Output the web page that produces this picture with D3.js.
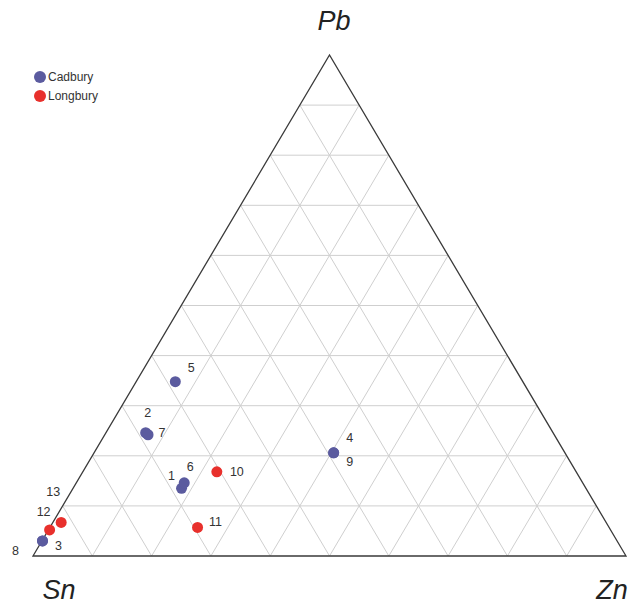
<!DOCTYPE html>
<html><head><meta charset="utf-8">
<script src="https://cdn.jsdelivr.net/npm/d3@7"></script>
<style>body{margin:0;background:#fff}svg{display:block}text{font-family:"Liberation Sans",Arial,sans-serif}</style>
</head><body><div id="chart"></div>
<script>
// Ternary data (fractions of Pb, Zn; Sn = remainder)
const sampleLabels = ["1","2","3","4","5","6","7","8","9","10","11","12","13"];
const sampleSite   = ["Cadbury","Cadbury","Cadbury","Cadbury","Cadbury","Cadbury","Cadbury","Cadbury","Cadbury","Longbury","Longbury","Longbury","Longbury"];
const pbFrac = [0.135,0.246,0.030,0.206,0.348,0.146,0.242,0.030,0.206,0.168,0.057,0.052,0.067];
const znFrac = [0.183,0.067,0.001,0.404,0.066,0.182,0.073,0.001,0.404,0.226,0.249,0.002,0.014];
const snFrac = pbFrac.map((p,i)=>+(1-p-znFrac[i]).toFixed(3));
const sites = ["Cadbury","Longbury"];
const vertexLabels = ["Sn","Zn","Pb"];
// label offsets (presentation only)
const labelOffset = {"1":[-10,-12],"2":[2,-20],"3":[16,5],"4":[16,-15],"5":[16,-14],"6":[6,-16],"7":[14,-2],"8":[-27,10],"9":[16,9],"10":[20,0],"11":[18,-5],"12":[-6,-18],"13":[-8,-30]};

const W=629,H=606;
const svg=d3.select("#chart").append("svg").attr("width",W).attr("height",H);
const color=d3.scaleOrdinal().domain(sites).range(["#5b5b9f","#e8302c"]);
// x uses Zn + Pb/2, y uses Pb
const xS=d3.scaleLinear().domain([0,1]).range([33,626]);
const yS=d3.scaleLinear().domain([0,1]).range([556,55]);
const pt=(p,z)=>[xS(z+p/2),yS(p)];

// grid
const grid=svg.append("g").attr("stroke","#cfcfcf").attr("stroke-width",1).attr("fill","none");
for(let k=1;k<10;k++){
  const t=k/10;
  let a=pt(t,0),b=pt(t,1-t);
  grid.append("line").attr("x1",a[0]).attr("y1",a[1]).attr("x2",b[0]).attr("y2",b[1]);
  a=pt(0,t);b=pt(1-t,t);
  grid.append("line").attr("x1",a[0]).attr("y1",a[1]).attr("x2",b[0]).attr("y2",b[1]);
  a=pt(0,1-t);b=pt(1-t,0);
  grid.append("line").attr("x1",a[0]).attr("y1",a[1]).attr("x2",b[0]).attr("y2",b[1]);
}
// outline
const V=[pt(0,0),pt(0,1),pt(1,0)];
svg.append("path").attr("d","M"+V.map(v=>v.join(",")).join("L")+"Z")
  .attr("fill","none").attr("stroke","#3a3a3a").attr("stroke-width",1.3);

// vertex labels
svg.append("text").text(vertexLabels[2]).attr("x",334).attr("y",30).attr("text-anchor","middle")
  .attr("font-size",27).attr("font-style","italic").attr("fill","#222");
svg.append("text").text(vertexLabels[0]).attr("x",59).attr("y",599).attr("text-anchor","middle")
  .attr("font-size",27).attr("font-style","italic").attr("fill","#222");
svg.append("text").text(vertexLabels[1]).attr("x",612).attr("y",599).attr("text-anchor","middle")
  .attr("font-size",27).attr("font-style","italic").attr("fill","#222");

// points
const data=sampleLabels.map((l,i)=>({l,site:sampleSite[i],p:pbFrac[i],z:znFrac[i],s:snFrac[i]}));
const order=[7,2,0,5,1,6,4,3,8,9,10,11,12];
svg.append("g").selectAll("circle").data(order.map(i=>data[i])).join("circle")
  .attr("cx",d=>pt(d.p,d.z)[0]).attr("cy",d=>pt(d.p,d.z)[1]).attr("r",5.5)
  .attr("fill",d=>color(d.site));
svg.append("g").selectAll("text").data(data).join("text")
  .attr("x",d=>pt(d.p,d.z)[0]+labelOffset[d.l][0]).attr("y",d=>pt(d.p,d.z)[1]+labelOffset[d.l][1])
  .attr("text-anchor","middle").attr("dominant-baseline","central")
  .attr("font-size",12.5).attr("fill","#333").text(d=>d.l);

// legend
const lg=svg.append("g");
sites.forEach((s,i)=>{
  lg.append("circle").attr("cx",40).attr("cy",77+i*19).attr("r",6).attr("fill",color(s));
  lg.append("text").attr("x",48).attr("y",77+i*19).attr("dominant-baseline","central")
    .attr("font-size",12).attr("fill","#333").text(s);
});
</script></body></html>
